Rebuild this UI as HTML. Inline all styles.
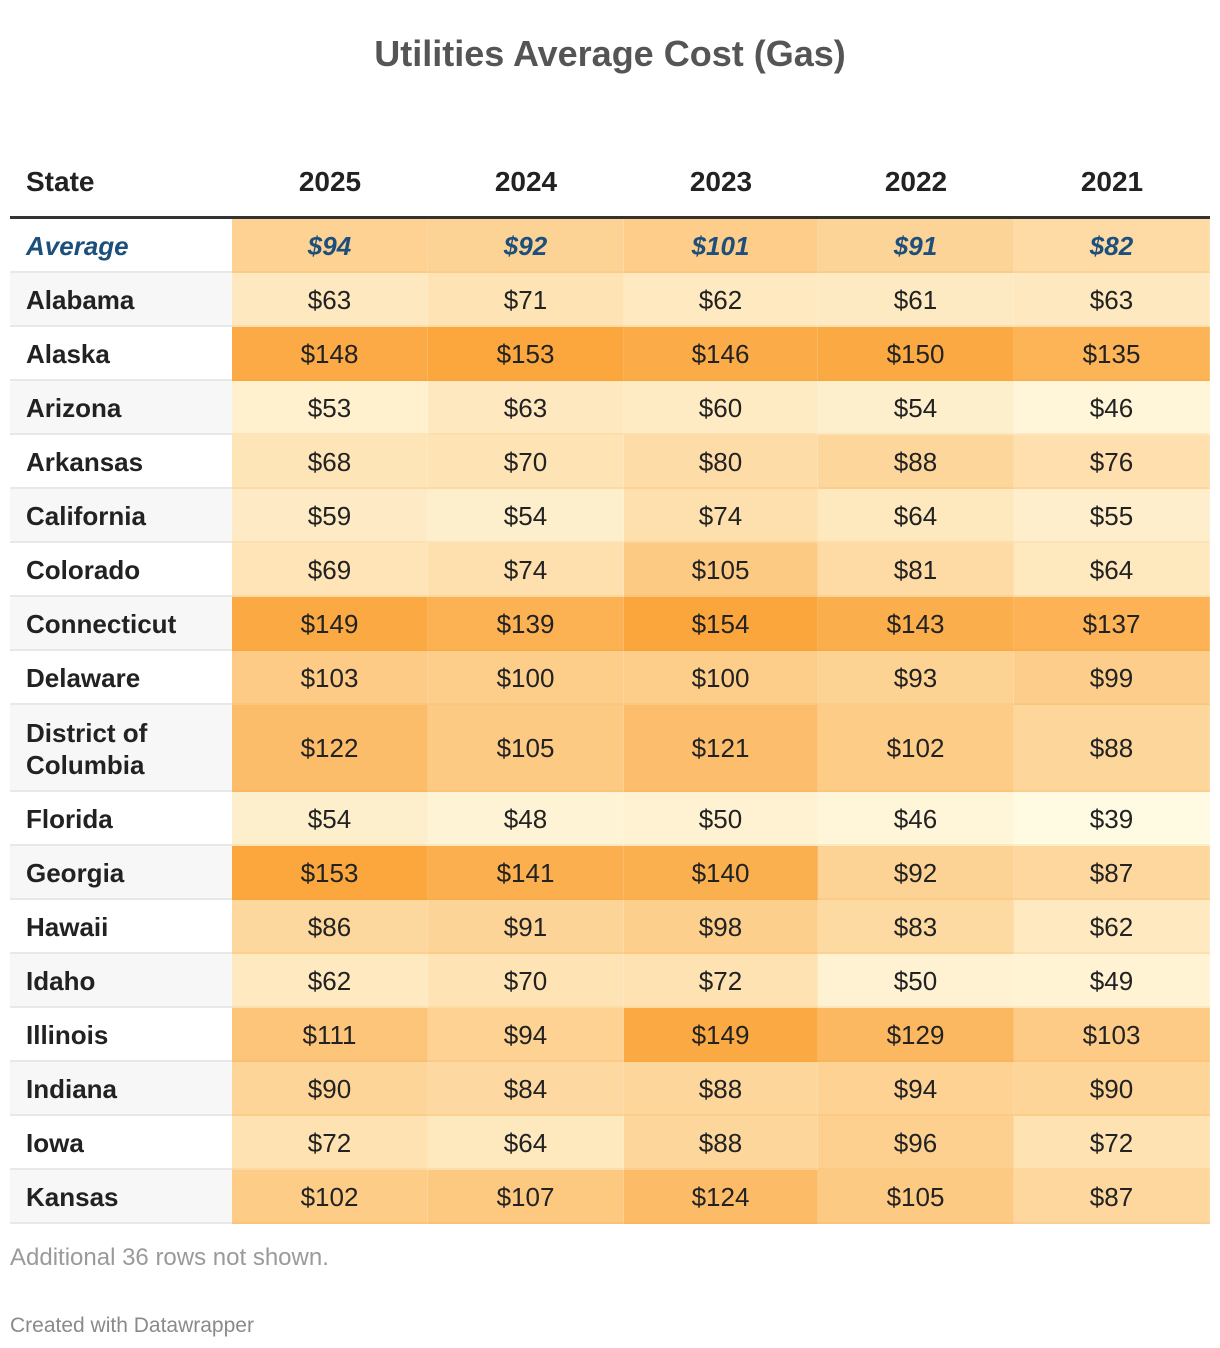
<!DOCTYPE html>
<html><head><meta charset="utf-8"><style>
body{margin:0;background:#fff;font-family:"Liberation Sans",Arial,sans-serif;}
#root{position:relative;width:1220px;height:1348px;overflow:hidden;}
.abs{position:absolute;}
.cell{position:absolute;display:flex;align-items:center;justify-content:center;font-size:26px;color:#222;box-sizing:border-box;padding-top:2px;}
.st{position:absolute;display:flex;align-items:center;padding-left:16px;padding-top:2px;box-sizing:border-box;font-size:26px;font-weight:bold;color:#222;line-height:32px;}
</style></head><body>
<div id="root">
<div class="abs" style="left:0;width:1220px;top:33px;text-align:center;font-size:36px;font-weight:bold;color:#555;">Utilities Average Cost (Gas)</div>
<div id="tbl"></div>
<div class="abs" style="left:10px;top:1244px;font-size:24px;color:#9a9a9a;">Additional 36 rows not shown.</div>
<div class="abs" style="left:10px;top:1314px;font-size:21px;color:#8a8a8a;">Created with Datawrapper</div>
</div>
<script>
const years=["2025","2024","2023","2022","2021"];
const states=["Average","Alabama","Alaska","Arizona","Arkansas","California","Colorado","Connecticut","Delaware","District of Columbia","Florida","Georgia","Hawaii","Idaho","Illinois","Indiana","Iowa","Kansas"];
const v2025=[94,63,148,53,68,59,69,149,103,122,54,153,86,62,111,90,72,102];
const v2024=[92,71,153,63,70,54,74,139,100,105,48,141,91,70,94,84,64,107];
const v2023=[101,62,146,60,80,74,105,154,100,121,50,140,98,72,149,88,88,124];
const v2022=[91,61,150,54,88,64,81,143,93,102,46,92,83,50,129,94,96,105];
const v2021=[82,63,135,46,76,55,64,137,99,88,39,87,62,49,103,90,72,87];
const series=[v2025,v2024,v2023,v2022,v2021];
const minV=39,maxV=154;
function color(v){const t=Math.max(0,Math.min(1,(v-minV)/(maxV-minV)));
 const a=[255,250,226],b=[251,166,60];
 return `rgb(${a.map((x,i)=>Math.round(x+(b[i]-x)*t)).join(',')})`;}
const root=document.getElementById('tbl');
const colX=[232,428,624,818,1014,1210];
function add(cls,style,txt){const d=document.createElement('div');d.className=cls;d.style.cssText=style;d.textContent=txt;root.appendChild(d);return d;}
let h=add('abs','left:26px;top:166px;font-size:28px;font-weight:bold;color:#222;','State');


years.forEach((y,i)=>{const e=add('abs',`left:${colX[i]}px;width:${colX[i+1]-colX[i]}px;top:166px;text-align:center;font-size:28px;font-weight:bold;color:#222;`,y);

});
let ln=add('abs','left:10px;width:1200px;top:216px;height:3px;background:#333;','');


let y=219;
states.forEach((s,r)=>{
 const hh=(s==="District of Columbia")?87:54;
 const avg=r===0;
 const st=add('st',`left:10px;width:222px;top:${y}px;height:${hh}px;background:${r%2?'#f7f7f7':'#fff'};border-bottom:2px solid #e8e8e8;${avg?'color:#1d4f7c;font-style:italic;':''}`,s);
 
 
 series.forEach((arr,c)=>{
  const v=arr[r];
  const e=add('cell',`left:${colX[c]}px;width:${colX[c+1]-colX[c]}px;top:${y}px;height:${hh}px;background:${color(v)};border-bottom:2px solid rgba(230,150,40,0.12);border-right:1px solid rgba(255,255,255,0.15);${avg?'color:#1d4f7c;font-style:italic;font-weight:bold;':''}`,'$'+v);
  
  
 });
 y+=hh;
});
</script>
</body></html>
